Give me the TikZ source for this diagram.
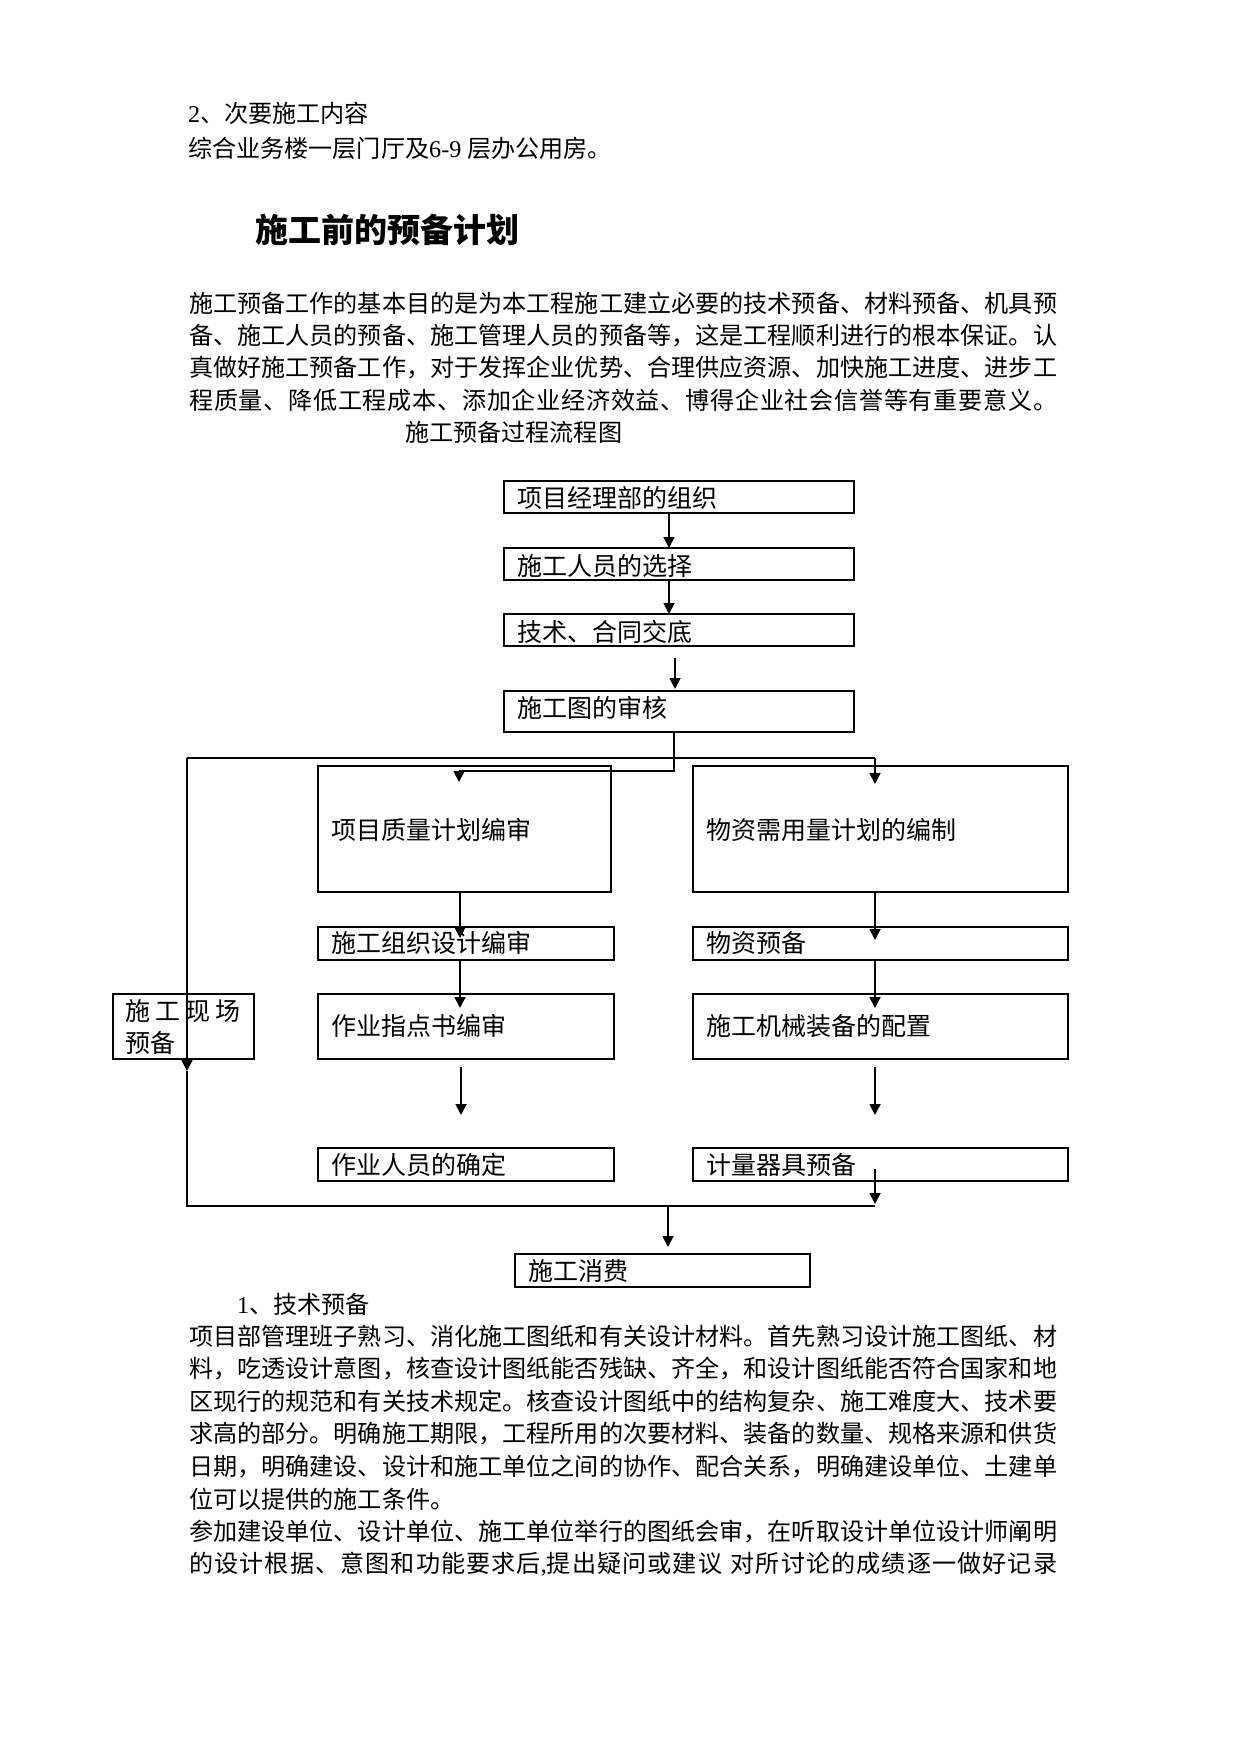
\documentclass[tikz,border=0pt]{standalone}
\usepackage{fontspec}
\setmainfont{Noto Sans CJK SC}
\newfontfamily\tnr{Liberation Serif}
\usetikzlibrary{arrows.meta,calc}
% stretchable glue between CJK characters (for justified lines)
\XeTeXinterchartokenstate=1
\newXeTeXintercharclass\cjkcls
\count255="3000 \loop\ifnum\count255<"3040 \XeTeXcharclass\count255=\cjkcls \advance\count255 by 1 \repeat
\count255="4E00 \loop\ifnum\count255<"A000 \XeTeXcharclass\count255=\cjkcls \advance\count255 by 1 \repeat
\count255="FF00 \loop\ifnum\count255<"FFF0 \XeTeXcharclass\count255=\cjkcls \advance\count255 by 1 \repeat
\XeTeXinterchartoks\cjkcls\cjkcls={\hskip0pt plus 1pt\relax}
\newcommand{\jline}[1]{\makebox[868pt][s]{#1}}
\begin{document}
\begin{tikzpicture}[x=1pt,y=-1pt,
  box/.style={draw, line width=1.3pt, inner sep=0pt, outer sep=0pt},
  btxt/.style={inner sep=0pt, anchor=west, font=\fontsize{25pt}{30pt}\selectfont},
  ptxt/.style={inner sep=0pt, anchor=west, font=\fontsize{24.1pt}{29pt}\selectfont},
  arr/.style={line width=1.8pt, -{Triangle[length=11pt,width=11pt]}},
  thinline/.style={line width=1.1pt},
  thickline/.style={line width=1.8pt}]
\useasboundingbox (0,0) rectangle (1241,1754);

% ---------- top text ----------
\node[ptxt] (h1) at (188,113) {{\tnr 2}、次要施工内容};
\node[ptxt] (h2) at (188,148) {综合业务楼一层门厅及{\tnr 6-9 }层办公用房。};
\node[inner sep=0pt, anchor=west, font=\fontsize{33pt}{40pt}\selectfont\bfseries] (title) at (255,230) {施工前的预备计划};
\node[ptxt] (p1) at (189,303) {\jline{施工预备工作的基本目的是为本工程施工建立必要的技术预备、材料预备、机具预}};
\node[ptxt] (p2) at (189,335.5) {\jline{备、施工人员的预备、施工管理人员的预备等，这是工程顺利进行的根本保证。认}};
\node[ptxt] (p3) at (189,368) {\jline{真做好施工预备工作，对于发挥企业优势、合理供应资源、加快施工进度、进步工}};
\node[ptxt] (p4) at (189,400.5) {\jline{程质量、降低工程成本、添加企业经济效益、博得企业社会信誉等有重要意义。}};
\node[ptxt] (ft) at (405,432) {施工预备过程流程图};

% ---------- boxes ----------
\node[box, minimum width=350pt, minimum height=32pt] (b1) at (679,497) {};
\node[box, minimum width=350pt, minimum height=32pt] (b2) at (679,564) {};
\node[box, minimum width=350pt, minimum height=32pt] (b3) at (679,630) {};
\node[box, minimum width=350pt, minimum height=41pt] (b4) at (679,711.5) {};

\node[box, minimum width=293pt, minimum height=126pt] (q1) at (464.5,829) {};
\node[box, minimum width=296pt, minimum height=33pt] (q2) at (466,943.5) {};
\node[box, minimum width=296pt, minimum height=65pt] (q3) at (466,1026.5) {};
\node[box, minimum width=296pt, minimum height=33pt] (q4) at (466,1164.5) {};

\node[box, minimum width=375pt, minimum height=126pt] (m1) at (880.5,829) {};
\node[box, minimum width=375pt, minimum height=33pt] (m2) at (880.5,943.5) {};
\node[box, minimum width=375pt, minimum height=65pt] (m3) at (880.5,1026.5) {};
\node[box, minimum width=375pt, minimum height=33pt] (m4) at (880.5,1164.5) {};

\node[box, minimum width=141pt, minimum height=65pt] (s) at (183.5,1026.5) {};
\node[box, minimum width=295pt, minimum height=33pt] (e) at (662.5,1270.5) {};
\draw[line width=2.6pt] (e.north west) -- (e.north east);

% ---------- box texts ----------
\node[btxt] (t1) at (517,498) {项目经理部的组织};
\node[btxt] (t2) at (517,566) {施工人员的选择};
\node[btxt] (t3) at (517,632) {技术、合同交底};
\node[btxt] (t4) at (517,708) {施工图的审核};
\node[btxt] (tq1) at (331,830) {项目质量计划编审};
\node[btxt] (tq2) at (331,943) {施工组织设计编审};
\node[btxt] (tq3) at (331,1026) {作业指点书编审};
\node[btxt] (tq4) at (331,1165) {作业人员的确定};
\node[btxt] (tm1) at (706,830) {物资需用量计划的编制};
\node[btxt] (tm2) at (706,943) {物资预备};
\node[btxt] (tm3) at (706,1026) {施工机械装备的配置};
\node[btxt] (tm4) at (706,1165) {计量器具预备};
\node[btxt] (ts1) at (125,1011) {\makebox[115pt][s]{施\hfil 工\hfil 现\hfil 场}};
\node[btxt] (ts2) at (125,1043) {预备};
\node[btxt] (te) at (528,1271) {施工消费};

% ---------- connectors ----------
\draw[arr] ([xshift=-10pt]b1.south) -- ([xshift=-10pt]b2.north);
\draw[arr] ([xshift=-10pt]b2.south) -- ([xshift=-10pt]b3.north);
\draw[arr] ([xshift=-4pt,yshift=-12pt]b3.south) -- ([xshift=-4pt,yshift=2pt]b4.north);

\coordinate (k1) at (459,771);
\draw[thickline] ([xshift=-5pt]b4.south) |- (k1);
\draw[arr] (k1) -- ([xshift=-5.5pt,yshift=-16pt]q1.north);

\coordinate (L1) at (187,758);
\coordinate (R1) at (875,758);
\coordinate (Ltip) at (187,1071);
\coordinate (LB) at (187,1206);
\coordinate (RB) at (875,1206);
\draw[thinline] (L1) -- (R1);
\draw[arr] (R1) -- ([xshift=-5.5pt,yshift=-18pt]m1.north);
\draw[line width=2.8pt] (L1) -- ++(0,49);
\draw[arr] (L1) -- (Ltip);
\draw[thinline] (Ltip) -- (LB) -- (RB);

\draw[arr] ([xshift=-4.5pt]q1.south) -- ([xshift=-6pt,yshift=-11pt]q2.north);
\draw[arr] ([xshift=-6pt]q2.south) -- ([xshift=-6pt,yshift=-14pt]q3.north);
\draw[arr] ([xshift=-5pt,yshift=-8pt]q3.south) -- ([xshift=-5pt,yshift=33pt]q4.north);

\draw[arr] ([xshift=-5.5pt]m1.south) -- ([xshift=-5.5pt,yshift=-13pt]m2.north);
\draw[arr] ([xshift=-5.5pt]m2.south) -- ([xshift=-5.5pt,yshift=-14pt]m3.north);
\draw[arr] ([xshift=-5.5pt,yshift=-8pt]m3.south) -- ([xshift=-5.5pt,yshift=33pt]m4.north);
\draw[arr] ([xshift=-5.5pt,yshift=-21pt]m4.north) -- ([yshift=2pt]RB);

\draw[arr] ([xshift=5.5pt]e.north |- RB) -- ([xshift=5.5pt,yshift=7pt]e.north);

% ---------- lower text ----------
\node[ptxt] (sec1) at (237,1304) {{\tnr 1}、技术预备};
\node[ptxt] (r1) at (189,1336) {\jline{项目部管理班子熟习、消化施工图纸和有关设计材料。首先熟习设计施工图纸、材}};
\node[ptxt] (r2) at (189,1368.6) {\jline{料，吃透设计意图，核查设计图纸能否残缺、齐全，和设计图纸能否符合国家和地}};
\node[ptxt] (r3) at (189,1401.2) {\jline{区现行的规范和有关技术规定。核查设计图纸中的结构复杂、施工难度大、技术要}};
\node[ptxt] (r4) at (189,1433.8) {\jline{求高的部分。明确施工期限，工程所用的次要材料、装备的数量、规格来源和供货}};
\node[ptxt] (r5) at (189,1466.4) {\jline{日期，明确建设、设计和施工单位之间的协作、配合关系，明确建设单位、土建单}};
\node[ptxt] (r6) at (189,1499) {位可以提供的施工条件。};
\node[ptxt] (r7) at (189,1531.6) {\jline{参加建设单位、设计单位、施工单位举行的图纸会审，在听取设计单位设计师阐明}};
\node[ptxt] (r8) at (189,1564.2) {\jline{的设计根据、意图和功能要求后{\tnr ,}提出疑问或建议 对所讨论的成绩逐一做好记录}};
\end{tikzpicture}
\end{document}
